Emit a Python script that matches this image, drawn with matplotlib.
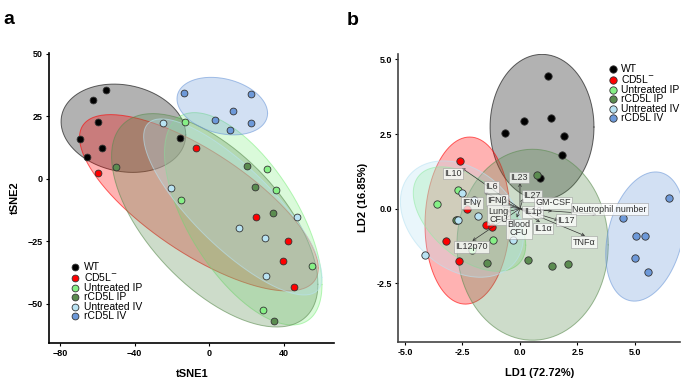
import numpy as np
import matplotlib
matplotlib.use("Agg")
import matplotlib.pyplot as plt

plt.rcParams['font.family'] = ['Liberation Sans', 'DejaVu Sans']

groups = ["WT", "CD5L$^{-}$", "Untreated IP", "rCD5L IP", "Untreated IV", "rCD5L IV"]
colors = ["#000000", "#FF0000", "#86F086", "#5B8C50", "#B9E3F3", "#6D99D9"]

# panel a: tSNE coordinates per group
tsne_x = [
    [-55.6, -62.1, -59.8, -69.6, -57.8, -65.7, -15.9],
    [-59.6, -6.9, 25.0, 42.4, 39.7, 45.6],
    [-13.0, 31.1, 35.8, -15.3, 55.3, 29.1],
    [-50.1, 20.2, 24.3, 34.1, 34.8],
    [-25.0, -20.7, 46.9, 16.2, 29.7, 30.2],
    [-13.7, 22.5, 12.5, 3.0, 22.2, 11.4],
]
tsne_y = [
    [35.5, 31.6, 22.9, 16.1, 12.2, 8.7, 16.3],
    [2.2, 12.4, -15.1, -24.8, -32.7, -43.1],
    [22.9, 4.1, -4.6, -8.6, -34.9, -52.5],
    [4.9, 5.0, -3.3, -13.5, -56.9],
    [22.2, -3.8, -15.3, -19.6, -23.8, -38.7],
    [34.3, 33.9, 27.0, 23.6, 22.4, 19.6],
]
# ellipse extents (xmin, xmax, ymin, ymax) and tilt (correlation)
ell_a_x = [(-79.5, -12.6), (-69.6, 58.5), (-24.0, 60.5), (-52.4, 58.3), (-35.2, 60.5), (-17.3, 31.3)]
ell_a_y = [(2.6, 37.9), (-44.8, 25.7), (-58.4, 26.5), (-59.2, 26.1), (-46.4, 24.0), (17.6, 40.6)]
ell_a_rho = [-0.15, -0.74, -0.62, -0.6, -0.8, -0.25]

# panel b: LDA coordinates per group
ld1 = [
    [1.2, 0.17, 1.35, -0.67, 1.91, 1.83, 0.86],
    [-2.62, -2.29, -1.47, -1.23, -3.22, -2.64],
    [-2.68, -3.61, -2.75, -1.16, -2.1],
    [0.72, 0.33, 1.39, 2.09, -1.43, -2.8],
    [-2.54, -1.99, -1.81, -2.68, -0.3, -4.14],
    [6.47, 4.49, 5.06, 5.43, 5.01, 5.58],
]
ld2 = [
    [4.43, 2.94, 3.03, 2.53, 2.42, 1.81, 1.04],
    [1.61, 0.0, -0.55, -0.62, -1.08, -1.76],
    [0.64, 0.14, -0.39, -1.04, -1.39],
    [1.14, -1.71, -1.93, -1.84, -1.82, -0.39],
    [0.53, 0.3, -0.25, -0.39, -1.04, -1.57],
    [0.37, -0.31, -0.93, -0.92, -1.64, -2.11],
]
ell_b_x = [(-1.3, 3.22), (-4.13, -0.43), (-4.64, 0.25), (-2.74, 3.84), (-5.2, 0.15), (3.73, 7.15)]
ell_b_y = [(0.3, 5.17), (-3.2, 2.4), (-2.1, 1.4), (-4.41, 1.99), (-2.3, 1.6), (-3.1, 1.23)]
ell_b_rho = [0.0, 0.05, -0.5, 0.0, -0.3, 0.27]

# loadings (arrow tips) and label positions
load_names = ["IL10", "IL6", "IFN\u03b2", "IFN\u03b3", "Lung\nCFU", "Blood\nCFU", "IL23", "IL27",
              "IL1\u03b2", "GM-CSF", "Neutrophil number", "IL17", "IL1\u03b1", "TNF\u03b1", "IL12p70"]
load_x = [-2.53, -1.55, -1.4, -0.8, -0.58, -0.14, 0.0, 0.14, 0.45, 1.4, 3.33, 1.67, 0.87, 2.83, -2.07]
load_y = [1.36, 0.54, 0.35, 0.08, -0.11, -0.3, 0.86, 0.34, -0.15, -0.08, -0.19, -0.39, -0.45, -0.91, -1.08]
lab_x = [-2.9, -1.23, -1.0, -2.1, -0.94, -0.03, -0.04, 0.51, 0.55, 1.45, 3.88, 2.0, 1.01, 2.78, -2.1]
lab_y = [1.18, 0.73, 0.28, 0.19, -0.22, -0.67, 1.04, 0.43, -0.11, 0.19, -0.02, -0.39, -0.67, -1.12, -1.28]


def ellipse_xy(xr, yr, rho, n=200):
    t = np.linspace(0, 2 * np.pi, n)
    cx, cy = (xr[0] + xr[1]) / 2, (yr[0] + yr[1]) / 2
    sx, sy = (xr[1] - xr[0]) / 2, (yr[1] - yr[0]) / 2
    x = cx + sx * np.cos(t)
    y = cy + sy * (rho * np.cos(t) + np.sqrt(1 - rho ** 2) * np.sin(t))
    return x, y


def style_axes(ax, spine_color):
    for s in ["top", "right"]:
        ax.spines[s].set_visible(False)
    for s in ["left", "bottom"]:
        ax.spines[s].set_color(spine_color)
        ax.spines[s].set_linewidth(1.2)
    ax.tick_params(labelsize=6.5, length=2.0, width=0.8, pad=2.5, colors="black")
    for lbl in ax.get_xticklabels() + ax.get_yticklabels():
        lbl.set_fontweight("bold")


fig = plt.figure(figsize=(6.83, 3.81), dpi=100)

# ---- panel a ----
ax1 = fig.add_axes([0.0722, 0.0997, 0.417, 0.761])
for i in range(len(groups)):
    ex, ey = ellipse_xy(ell_a_x[i], ell_a_y[i], ell_a_rho[i])
    ax1.fill(ex, ey, facecolor=colors[i], alpha=0.3, edgecolor="none", zorder=1)
    ax1.plot(ex, ey, color=colors[i], lw=0.7, alpha=0.6, zorder=1)
for i in range(len(groups)):
    ax1.scatter(tsne_x[i], tsne_y[i], s=24, color=colors[i], edgecolor="#333333",
                linewidth=0.6, zorder=3, label=groups[i])
ax1.set_xlim(-85.8, 67)
ax1.set_ylim(-65.6, 50.3)
ax1.set_xticks([-80, -40, 0, 40])
ax1.set_yticks([50, 25, 0, -25, -50])
style_axes(ax1, "black")
ax1.set_xlabel("tSNE1", fontsize=8, fontweight="bold", labelpad=8)
ax1.set_ylabel("tSNE2", fontsize=8, fontweight="bold", labelpad=6)
ax1.legend(loc="lower left", bbox_to_anchor=(0.055, 0.058), frameon=False,
           labelspacing=-0.05, handletextpad=0.3, borderpad=0, handlelength=1.0,
           prop={"size": 7.5})

# ---- panel b ----
ax2 = fig.add_axes([0.5832, 0.1031, 0.4124, 0.755])
for i in range(len(groups)):
    ex, ey = ellipse_xy(ell_b_x[i], ell_b_y[i], ell_b_rho[i])
    ax2.fill(ex, ey, facecolor=colors[i], alpha=0.3, edgecolor="none", zorder=1)
    ax2.plot(ex, ey, color=colors[i], lw=0.7, alpha=0.6, zorder=1)
for i in range(len(groups)):
    ax2.scatter(ld1[i], ld2[i], s=28, color=colors[i], edgecolor="#333333",
                linewidth=0.6, zorder=3, label=groups[i])
for i in range(len(load_names)):
    ax2.annotate("", xy=(load_x[i], load_y[i]), xytext=(0, 0),
                 arrowprops=dict(arrowstyle="->", color="#333333", lw=0.5,
                                 shrinkA=0, shrinkB=0, mutation_scale=5), zorder=4)
for i in range(len(load_names)):
    ax2.text(lab_x[i], lab_y[i], load_names[i], fontsize=6.5, color="#333333",
             ha="center", va="center", linespacing=0.9, zorder=5,
             bbox=dict(boxstyle="square,pad=0.15", facecolor="white", alpha=0.75,
                       edgecolor="#999999", linewidth=0.5))
ax2.set_xlim(-5.29, 6.96)
ax2.set_ylim(-4.46, 5.18)
ax2.set_xticks([-5.0, -2.5, 0.0, 2.5, 5.0])
ax2.set_xticklabels(["-5.0", "-2.5", "0.0", "2.5", "5.0"])
ax2.set_yticks([5.0, 2.5, 0.0, -2.5])
ax2.set_yticklabels(["5.0", "2.5", "0.0", "-2.5"])
style_axes(ax2, "#444444")
ax2.set_xlabel("LD1 (72.72%)", fontsize=8, fontweight="bold", labelpad=8)
ax2.set_ylabel("LD2 (16.85%)", fontsize=8, fontweight="bold", labelpad=6)
ax2.legend(loc="upper left", bbox_to_anchor=(0.725, 0.985), frameon=False,
           labelspacing=-0.05, handletextpad=0.3, borderpad=0, handlelength=1.0,
           prop={"size": 7.5})

fig.text(0.005, 0.95, "a", fontsize=14, fontweight="bold", va="center")
fig.text(0.508, 0.945, "b", fontsize=14, fontweight="bold", va="center")

fig.savefig("out.png", dpi=100)
